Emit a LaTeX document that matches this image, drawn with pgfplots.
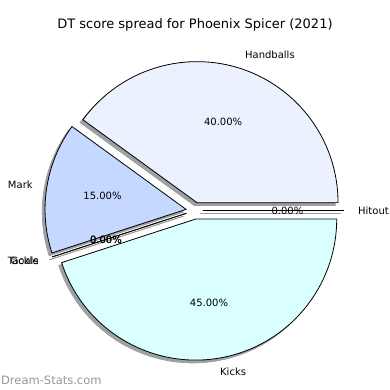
\documentclass[border=0pt]{standalone}
\usepackage{fontspec}
\setmainfont{DejaVu Sans}
\usepackage{pgfplots}
\usepackage{pgfplotstable}
\pgfplotsset{compat=1.18}

\definecolor{c0}{RGB}{235,241,255}
\definecolor{c1}{RGB}{235,241,255}
\definecolor{c2}{RGB}{197,216,255}
\definecolor{c3}{RGB}{235,241,255}
\definecolor{c4}{RGB}{235,241,255}
\definecolor{c5}{RGB}{218,255,255}
\definecolor{shadowc}{RGB}{158,161,162}
\definecolor{wm}{RGB}{150,150,150}

\tikzset{lbl/.style={font=\fontsize{10bp}{12bp}\selectfont, inner sep=0pt}}

\pgfplotstableread{
label value
Hitout 0
Handballs 40
Mark 15
Tackle 0
Goals 0
Kicks 45
}\piedata

\begin{document}
\begin{tikzpicture}
\begin{axis}[name=ax, x=141bp, y=141bp, scale only axis,
  xmin=-1.3787, xmax=1.3872, ymin=-1.2716, ymax=1.4943,
  hide axis, clip=false, /pgf/number format/assume math mode=true]
% shadows
\gdef\piecum{0}
\pgfplotsinvokeforeach{0,...,5}{
  \pgfplotstablegetelem{#1}{value}\of\piedata
  \let\pieV\pgfplotsretval
  \pgfmathsetmacro\pieA{\piecum*3.6}
  \pgfmathsetmacro\pieB{(\piecum+\pieV)*3.6}
  \pgfmathsetmacro\pieM{(\pieA+\pieB)/2}
  \pgfmathsetmacro\pieX{0.06*cos(\pieM)-0.02}
  \pgfmathsetmacro\pieY{0.06*sin(\pieM)-0.02}
  \pgfmathsetmacro\pieN{\piecum+\pieV}
  \xdef\piecum{\pieN}
  \edef\piecmd{\noexpand\filldraw[fill=shadowc, draw=shadowc, line width=0.8bp] (axis cs:\pieX,\pieY) -- ++(\pieA:141bp) arc[start angle=\pieA, end angle=\pieB, radius=141bp] -- cycle;}
  \piecmd
}
% wedges
\gdef\piecum{0}
\pgfplotsinvokeforeach{0,...,5}{
  \pgfplotstablegetelem{#1}{value}\of\piedata
  \let\pieV\pgfplotsretval
  \pgfmathsetmacro\pieA{\piecum*3.6}
  \pgfmathsetmacro\pieB{(\piecum+\pieV)*3.6}
  \pgfmathsetmacro\pieM{(\pieA+\pieB)/2}
  \pgfmathsetmacro\pieX{0.06*cos(\pieM)}
  \pgfmathsetmacro\pieY{0.06*sin(\pieM)}
  \pgfmathsetmacro\pieN{\piecum+\pieV}
  \xdef\piecum{\pieN}
  \edef\piecmd{\noexpand\filldraw[fill=c#1, draw=black, line width=0.8bp] (axis cs:\pieX,\pieY) -- ++(\pieA:141bp) arc[start angle=\pieA, end angle=\pieB, radius=141bp] -- cycle;}
  \piecmd
}
% labels
\gdef\piecum{0}
\pgfplotsinvokeforeach{0,...,5}{
  \pgfplotstablegetelem{#1}{value}\of\piedata
  \let\pieV\pgfplotsretval
  \pgfplotstablegetelem{#1}{label}\of\piedata
  \let\pieL\pgfplotsretval
  \pgfmathsetmacro\pieA{\piecum*3.6}
  \pgfmathsetmacro\pieB{(\piecum+\pieV)*3.6}
  \pgfmathsetmacro\pieM{(\pieA+\pieB)/2}
  \pgfmathsetmacro\pieC{cos(\pieM)}
  \pgfmathsetmacro\pieLX{1.16*cos(\pieM)}
  \pgfmathsetmacro\pieLY{1.16*sin(\pieM)}
  \pgfmathsetmacro\piePX{0.66*cos(\pieM)}
  \pgfmathsetmacro\piePY{0.66*sin(\pieM)}
  \ifdim\pieC pt>0pt \def\pieAnc{west}\else\def\pieAnc{east}\fi
  \pgfmathsetmacro\pieN{\piecum+\pieV}
  \xdef\piecum{\pieN}
  \edef\piecmd{\noexpand\node[lbl, anchor=\pieAnc] at (axis cs:\pieLX,\pieLY) {\pieL};
    \noexpand\node[lbl] at (axis cs:\piePX,\piePY) {\noexpand\pgfmathprintnumber[fixed,fixed zerofill,precision=2]{\pieV}\noexpand\%};}
  \piecmd
}
\node[font=\fontsize{13bp}{15bp}\selectfont] at (axis cs:0.004,1.315) {DT score spread for Phoenix Spicer (2021)};
\node[anchor=west, text=wm, font=\fontsize{11.5bp}{13bp}\selectfont, inner sep=0pt] at (axis cs:-1.372,-1.2007) {Dream-Stats.com};
\end{axis}
\pgfresetboundingbox
\path[use as bounding box] (ax.south west) rectangle (ax.north east);
\end{tikzpicture}
\end{document}
